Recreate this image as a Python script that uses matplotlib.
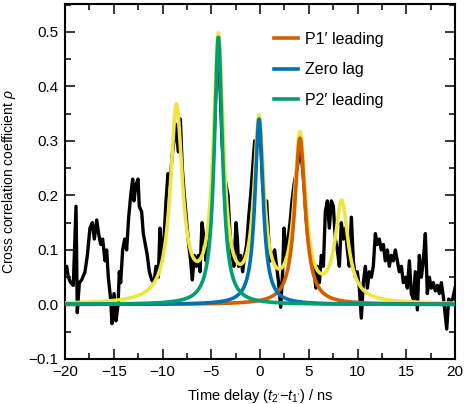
import numpy as np
import matplotlib
matplotlib.use("Agg")
import matplotlib.pyplot as plt
from matplotlib.ticker import MultipleLocator

plt.rcParams["font.family"] = ["Liberation Sans", "DejaVu Sans"]
plt.rcParams["mathtext.fontset"] = "custom"
plt.rcParams["mathtext.rm"] = "Liberation Sans"
plt.rcParams["mathtext.it"] = "Liberation Sans:italic"

delay_ns = [
    -20.0, -19.83, -19.66, -19.42, -19.15, -18.87, -18.74, -18.53, -18.29, -17.95,
    -17.71, -17.44, -17.2, -16.99, -16.75, -16.55, -16.34, -16.14, -15.9, -15.73,
    -15.56, -15.32, -15.18, -14.97, -14.77, -14.56, -14.43, -14.29, -14.09, -13.88,
    -13.68, -13.47, -13.26, -13.06, -12.92, -12.72, -12.51, -12.38, -12.14, -11.97,
    -11.76, -11.56, -11.35, -11.11, -10.87, -10.67, -10.43, -10.26, -10.05, -9.85,
    -9.64, -9.44, -9.23, -9.03, -8.82, -8.62, -8.38, -8.17, -7.97, -7.76,
    -7.52, -7.32, -7.11, -6.94, -6.74, -6.53, -6.32, -6.15, -5.95, -5.74,
    -5.54, -5.33, -5.13, -4.92, -4.72, -4.51, -4.31, -4.1, -3.9, -3.69,
    -3.49, -3.28, -3.08, -2.87, -2.67, -2.46, -2.32, -2.19, -1.98, -1.78,
    -1.57, -1.37, -1.16, -0.96, -0.75, -0.55, -0.34, -0.14, 0.07, 0.27,
    0.48, 0.68, 0.89, 1.09, 1.3, 1.5, 1.71, 1.91, 2.12, 2.32,
    2.46, 2.67, 2.87, 3.08, 3.28, 3.49, 3.69, 3.9, 4.1, 4.31,
    4.51, 4.72, 4.92, 5.13, 5.33, 5.54, 5.74, 5.88, 6.09, 6.29,
    6.5, 6.7, 6.91, 7.11, 7.32, 7.52, 7.73, 7.93, 8.14, 8.34,
    8.55, 8.75, 8.96, 9.16, 9.37, 9.57, 9.78, 9.98, 10.19, 10.39,
    10.6, 10.8, 11.01, 11.21, 11.42, 11.62, 11.83, 12.03, 12.24, 12.44,
    12.65, 12.85, 13.06, 13.26, 13.47, 13.68, 13.88, 14.09, 14.29, 14.5,
    14.7, 14.91, 15.11, 15.32, 15.52, 15.73, 15.93, 16.14, 16.34, 16.55,
    16.75, 16.96, 17.16, 17.37, 17.57, 17.78, 17.98, 18.19, 18.39, 18.6,
    18.8, 19.01, 19.15, 19.35, 19.56, 19.76, 20.0,
]
rho = [
    0.065, 0.07, 0.05, 0.04, 0.035, 0.18, -0.015, 0.04, 0.045, 0.06,
    0.09, 0.14, 0.15, 0.12, 0.155, 0.13, 0.11, 0.12, 0.08, 0.1,
    0.05, 0.01, -0.035, 0.02, -0.03, 0.0, 0.06, 0.04, 0.1, 0.12,
    0.1, 0.16, 0.2, 0.23, 0.19, 0.22, 0.23, 0.18, 0.17, 0.13,
    0.11, 0.09, 0.06, 0.045, 0.04, 0.07, 0.05, 0.14, 0.08, 0.12,
    0.19, 0.24, 0.22, 0.27, 0.3, 0.33, 0.28, 0.34, 0.25, 0.2,
    0.15, 0.11, 0.08, 0.045, 0.09, 0.07, 0.09, 0.06, 0.15, 0.12,
    0.08, 0.1, 0.15, 0.22, 0.3, 0.4, 0.46, 0.4, 0.3, 0.24,
    0.22, 0.2, 0.13, 0.09, 0.07, 0.15, 0.12, 0.07, 0.09, 0.06,
    0.09, 0.11, 0.16, 0.2, 0.25, 0.3, 0.29, 0.33, 0.3, 0.22,
    0.18, 0.19, 0.12, 0.08, 0.09, 0.1, 0.07, 0.04, -0.005, 0.06,
    0.14, 0.09, 0.12, 0.15, 0.19, 0.22, 0.24, 0.26, 0.29, 0.26,
    0.22, 0.16, 0.12, 0.1, 0.08, 0.06, 0.03, 0.07, 0.04, 0.09,
    0.07, 0.17, 0.19, 0.14, 0.19, 0.18, 0.12, 0.1, 0.07, 0.15,
    0.12, 0.14, 0.1, 0.07, 0.16, 0.08, 0.05, 0.06, 0.03, -0.025,
    0.04, 0.07, 0.03, 0.06, 0.05, 0.07, 0.13, 0.11, 0.12, 0.1,
    0.11, 0.08, 0.1, 0.07, 0.09, 0.08, 0.1, 0.08, 0.06, 0.07,
    0.04, 0.05, 0.03, 0.08, 0.02, 0.01, 0.06, -0.01, 0.09, 0.05,
    0.08, 0.13, 0.02, 0.05, 0.03, 0.04, 0.025, 0.035, 0.02, 0.04,
    0.015, -0.02, -0.045, 0.01, 0.005, 0.01, 0.03,
]

# Lorentzian fit parameters: centre (ns), amplitude, half width (ns)
total_centres = [-8.57, -4.27, -0.1, 4.1, 8.38]
total_amps = [0.355, 0.478, 0.325, 0.30, 0.18]
total_widths = [0.74, 0.62, 0.62, 0.70, 0.80]

comp_labels = ["P1\u2032 leading", "Zero lag", "P2\u2032 leading"]
comp_centres = [4.1, -0.1, -4.27]
comp_amps = [0.305, 0.34, 0.49]
comp_widths = [0.65, 0.5, 0.5]
comp_colors = ["#D55E00", "#0072B2", "#009E73"]


def lorentz(t, c, a, w):
    return a / (1 + ((t - c) / w) ** 2)


t = np.linspace(-20, 20, 2001)
total_fit = sum(lorentz(t, c, a, w) for c, a, w in zip(total_centres, total_amps, total_widths))

fig = plt.figure(figsize=(4.65, 4.04), dpi=100)
ax = fig.add_axes([0.1398, 0.1114, 0.8387, 0.8786])

ax.plot(delay_ns, rho, color="black", lw=2.4, zorder=2)
ax.plot(t, total_fit, color="#F0E442", lw=2.6, zorder=3)
for lab, c, a, w, col in zip(comp_labels, comp_centres, comp_amps, comp_widths, comp_colors):
    ax.plot(t, lorentz(t, c, a, w), color=col, lw=2.6, label=lab, zorder=4)

ax.set_xlim(-20, 20)
ax.set_ylim(-0.1, 0.551)
ax.xaxis.set_major_locator(MultipleLocator(5))
ax.xaxis.set_minor_locator(MultipleLocator(2.5))
ax.yaxis.set_major_locator(MultipleLocator(0.1))
ax.yaxis.set_minor_locator(MultipleLocator(0.05))
ax.tick_params(which="both", direction="in", top=True, right=True, width=1.1, labelsize=11)
ax.tick_params(which="major", length=7.5)
ax.tick_params(which="minor", length=4.3)
ax.tick_params(axis="x", which="major", pad=4)
ax.tick_params(axis="y", which="major", pad=5)
for s in ax.spines.values():
    s.set_linewidth(1.5)

ax.set_xlabel("Time delay ($t_{2'}$\u2212$t_{1'}$) / ns", fontsize=10.5, labelpad=6)
ax.set_ylabel("Cross correlation coefficient $\\rho$", fontsize=10, labelpad=7)

ax.legend(loc="upper left", bbox_to_anchor=(0.52, 0.94), frameon=False, fontsize=11.5,
          handlelength=1.5, handletextpad=0.45, labelspacing=0.98, borderaxespad=0)

fig.savefig("out.png", dpi=100)
